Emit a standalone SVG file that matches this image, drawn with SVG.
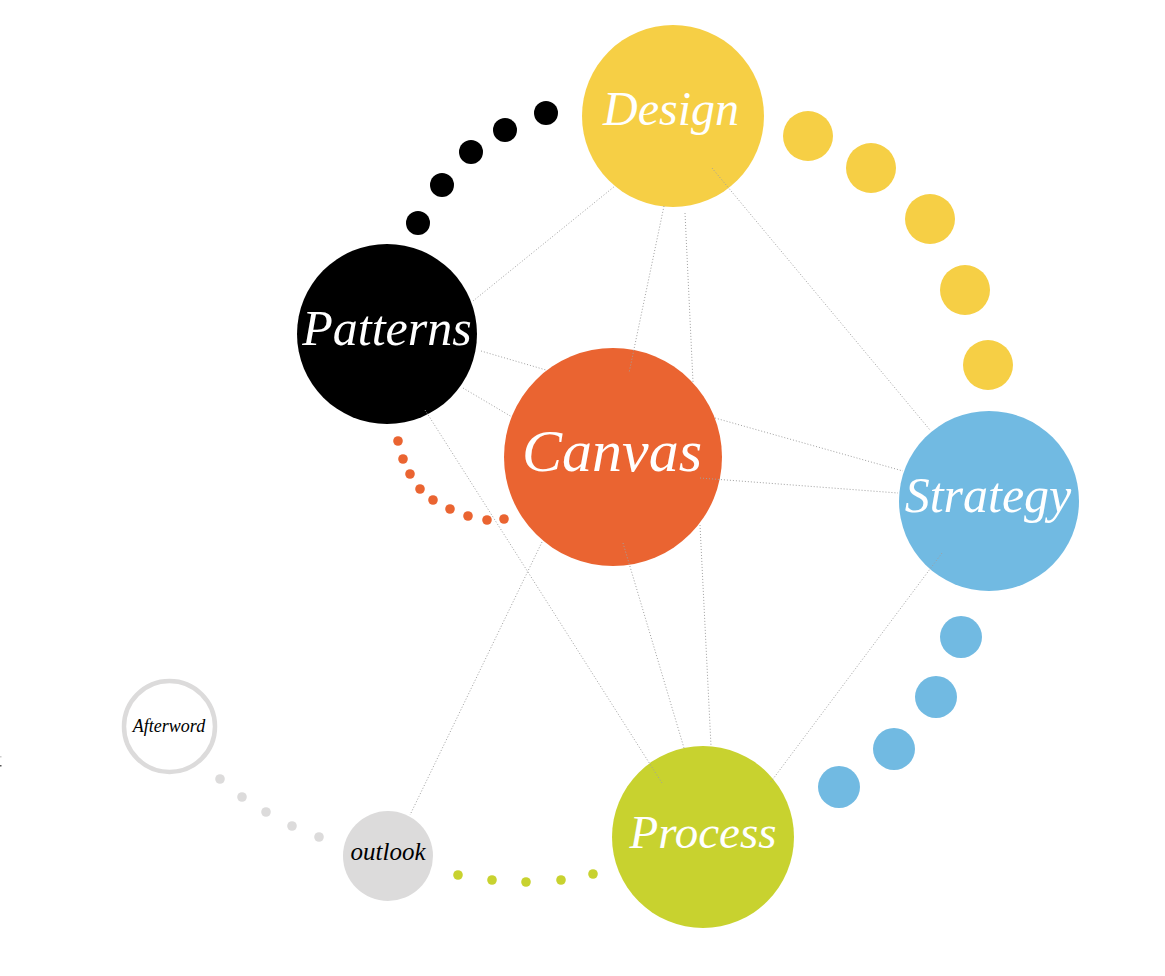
<svg xmlns="http://www.w3.org/2000/svg" width="1165" height="976" viewBox="0 0 1165 976">
<style>
.lbl{font-family:"Liberation Serif","DejaVu Serif",serif;font-style:italic;text-anchor:middle;fill:#fff}
.dk{fill:#000}
.ln{stroke:#a0a0a0;stroke-width:1;stroke-dasharray:1 2;fill:none}
.y{fill:#f6cf45}.b{fill:#000}.o{fill:#ea6431}.bl{fill:#71bae2}.g{fill:#c8d22f}.gr{fill:#dcdbdb}
</style>
<rect width="1165" height="976" fill="#fff"/>
<g id="dots">
<circle class="b" cx="418" cy="223" r="12"/>
<circle class="b" cx="442" cy="185" r="12"/>
<circle class="b" cx="471" cy="152" r="12"/>
<circle class="b" cx="505" cy="130" r="12"/>
<circle class="b" cx="546" cy="113" r="12"/>
<circle class="y" cx="808" cy="136" r="25"/>
<circle class="y" cx="871" cy="168" r="25"/>
<circle class="y" cx="930" cy="219" r="25"/>
<circle class="y" cx="965" cy="290" r="25"/>
<circle class="y" cx="988" cy="365" r="25"/>
<circle class="bl" cx="961" cy="637" r="21"/>
<circle class="bl" cx="936" cy="697" r="21"/>
<circle class="bl" cx="894" cy="749" r="21"/>
<circle class="bl" cx="839" cy="787" r="21"/>
<circle class="o" cx="398" cy="441" r="4.8"/>
<circle class="o" cx="403" cy="459" r="4.8"/>
<circle class="o" cx="410" cy="474" r="4.8"/>
<circle class="o" cx="420" cy="489" r="4.8"/>
<circle class="o" cx="433" cy="500" r="4.8"/>
<circle class="o" cx="450" cy="509" r="4.8"/>
<circle class="o" cx="468" cy="516" r="4.8"/>
<circle class="o" cx="487" cy="520" r="4.8"/>
<circle class="o" cx="504" cy="519" r="4.8"/>
<circle class="g" cx="458" cy="875" r="4.8"/>
<circle class="g" cx="492" cy="880" r="4.8"/>
<circle class="g" cx="526" cy="882" r="4.8"/>
<circle class="g" cx="561" cy="880" r="4.8"/>
<circle class="g" cx="593" cy="874" r="4.8"/>
<circle class="gr" cx="220" cy="779" r="4.8"/>
<circle class="gr" cx="242" cy="797" r="4.8"/>
<circle class="gr" cx="266" cy="812" r="4.8"/>
<circle class="gr" cx="292" cy="826" r="4.8"/>
<circle class="gr" cx="319" cy="837" r="4.8"/>
<rect x="0" y="756" width="1.5" height="1.5" fill="#ccc"/>
<rect x="0" y="765" width="1.5" height="1.5" fill="#555"/>
</g>
<g id="design"><circle class="y" cx="673" cy="116" r="91"/><text class="lbl" x="671" y="125" font-size="48">Design</text></g>
<g id="patterns"><circle class="b" cx="387" cy="334" r="90"/><text class="lbl" x="387" y="345" font-size="50">Patterns</text></g>
<g id="canvas"><circle class="o" cx="613" cy="457" r="109"/><text class="lbl" x="612" y="471" font-size="60">Canvas</text></g>
<g id="strategy"><circle class="bl" cx="989" cy="501" r="90"/><text class="lbl" x="988" y="512" font-size="50">Strategy</text></g>
<g id="process"><circle class="g" cx="703" cy="837" r="91"/><text class="lbl" x="703" y="848" font-size="47">Process</text></g>
<g id="outlook"><circle class="gr" cx="388" cy="856" r="45"/><text class="lbl dk" x="388" y="860" font-size="25">outlook</text></g>
<g id="afterword"><circle cx="169.5" cy="726.5" r="45.5" fill="#fff" stroke="#dcdbdb" stroke-width="4.5"/><text class="lbl dk" x="169" y="732" font-size="18">Afterword</text></g>
<g id="connectors">
<line class="ln" x1="473" y1="301" x2="615" y2="186"/>
<line class="ln" x1="664" y1="206" x2="629" y2="373"/>
<line class="ln" x1="685" y1="213" x2="693" y2="382"/>
<line class="ln" x1="700" y1="525" x2="711" y2="746"/>
<line class="ln" x1="712" y1="168" x2="930" y2="430"/>
<line class="ln" x1="715" y1="418" x2="903" y2="471"/>
<line class="ln" x1="700" y1="478" x2="898" y2="493"/>
<line class="ln" x1="481" y1="351" x2="546" y2="370"/>
<line class="ln" x1="463" y1="388" x2="512" y2="417"/>
<line class="ln" x1="425" y1="410" x2="662" y2="783"/>
<line class="ln" x1="542" y1="542" x2="410" y2="815"/>
<line class="ln" x1="623" y1="543" x2="684" y2="748"/>
<line class="ln" x1="942" y1="553" x2="770" y2="783"/>
</g>
</svg>
